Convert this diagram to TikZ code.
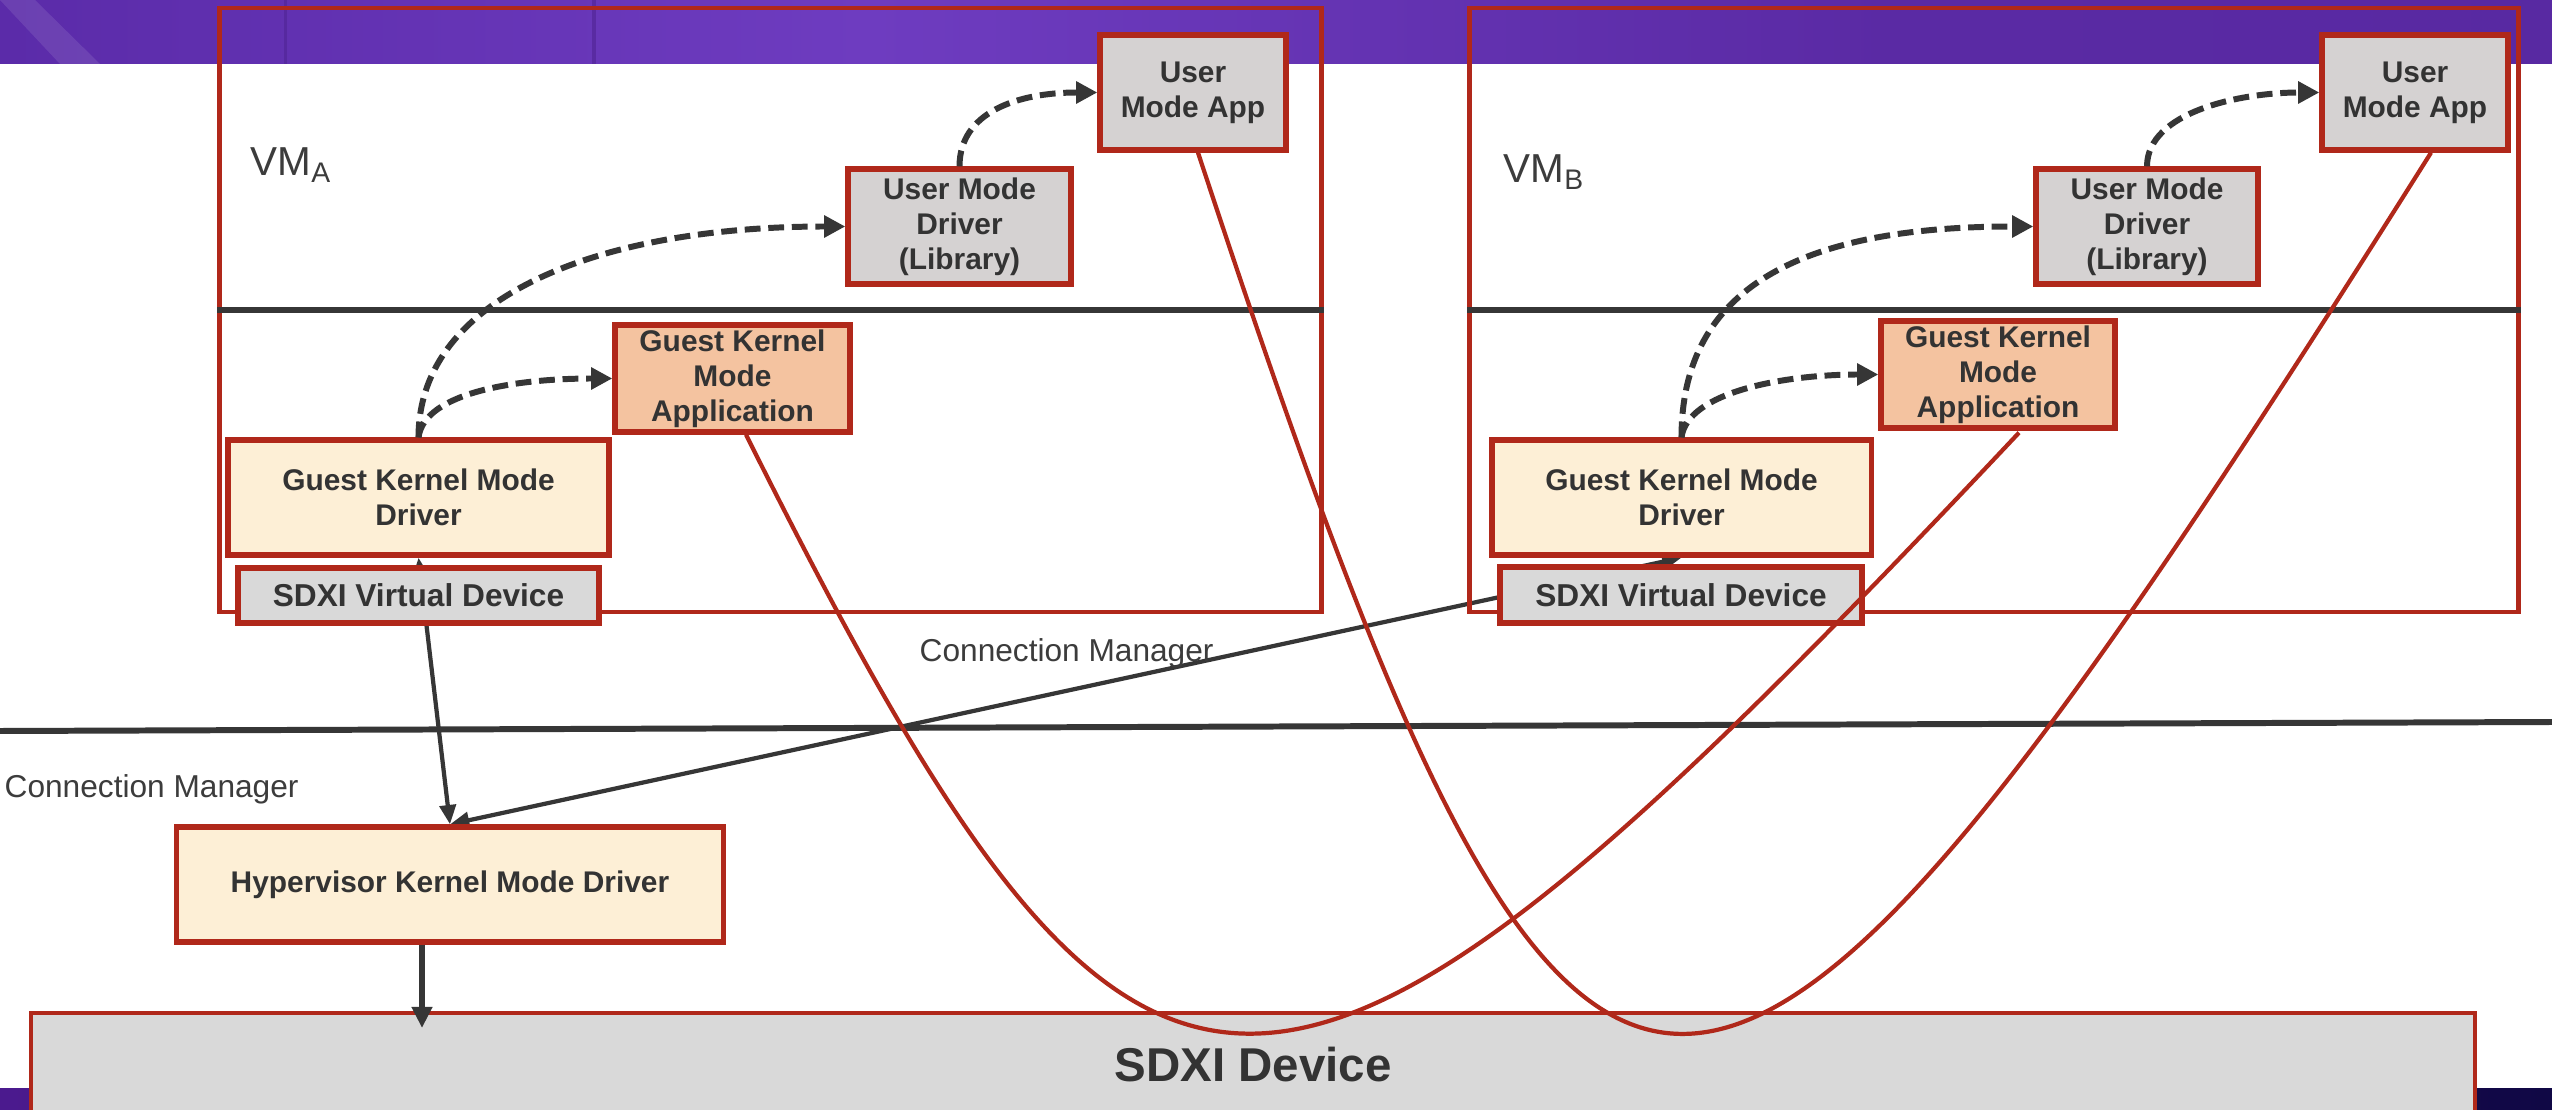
\documentclass[tikz,border=0pt]{standalone}
\usepackage{fontspec}
\setmainfont{Liberation Sans}
\usetikzlibrary{arrows.meta,calc}
\definecolor{redb}{HTML}{B0281A}
\definecolor{dk}{HTML}{363636}
\definecolor{cream}{HTML}{FDEFD6}
\definecolor{peach}{HTML}{F4C3A0}
\definecolor{lgray}{HTML}{D5D2D2}
\definecolor{vgray}{HTML}{D9D9D9}
\definecolor{txt}{HTML}{333333}
\definecolor{lbltxt}{HTML}{3C3C3C}
\definecolor{bnA}{HTML}{46168C}
\definecolor{bnB}{HTML}{5526A2}
\definecolor{bnC}{HTML}{6E3CC0}
\definecolor{bnD}{HTML}{5A2AA4}
\definecolor{bnE}{HTML}{55279E}
\definecolor{botL}{HTML}{4B1A8E}
\definecolor{botR}{HTML}{100845}
\pgfdeclarehorizontalshading{banner}{100bp}{color(0bp)=(bnA); color(20bp)=(bnB); color(42bp)=(bnC); color(62bp)=(bnD); color(100bp)=(bnE)}
\pgfdeclarelayer{bglayer}
\pgfdeclarelayer{connlayer}
\pgfsetlayers{bglayer,connlayer,main}
\tikzset{
  basebox/.style={draw=redb, line width=1.5pt, inner sep=0pt, align=center, text=txt,
    font=\bfseries\fontsize{8.5}{10}\selectfont},
  umbox/.style={basebox, fill=lgray},
  gkmabox/.style={basebox, fill=peach},
  drvbox/.style={basebox, fill=cream},
  vdbox/.style={basebox, fill=vgray, font=\bfseries\fontsize{9}{11}\selectfont},
  vmbox/.style={draw=redb, line width=1.3pt, inner sep=0pt},
  divider/.style={draw=dk, line width=1.7pt},
  dasharrow/.style={draw=dk, line width=1.7pt, dash pattern=on 4.5pt off 2.2pt,
    -{Triangle[length=6pt,width=6pt]}},
  connline/.style={draw=dk, line width=1.2pt},
  thintip/.style={{Triangle[length=5.5pt,width=4.6pt]}-{Triangle[length=5.5pt,width=4.6pt]}},
  redcurve/.style={draw=redb, line width=1.2pt},
  lbl/.style={text=lbltxt, font=\fontsize{9}{11}\selectfont, inner sep=0pt, anchor=base west},
}
\begin{document}
\begin{tikzpicture}[x=0.01cm, y=-0.01cm]
\useasboundingbox (0,0) rectangle (2552,1110);
\clip (0,0) rectangle (2552,1110);

% backgrounds
\begin{pgfonlayer}{bglayer}
  \fill[white] (0,0) rectangle (2552,1110);
  \shade[shading=banner] (0,0) rectangle (2552,64);
  \fill[white, opacity=0.10] (0,0) -- (35,0) -- (100,64) -- (60,64) -- cycle;
  \fill[bnA!80!black, opacity=0.25] (284,0) rectangle (287,64);
  \fill[bnA!80!black, opacity=0.3] (592,0) rectangle (596,64);
  \shade[left color=botL, right color=botR] (0,1088) rectangle (2552,1110);
\end{pgfonlayer}

% VM frames
\node[vmbox, minimum width=11.01cm, minimum height=6.04cm] (vmA) at (770.5,310) {};
\node[vmbox, minimum width=10.48cm, minimum height=6.04cm] (vmB) at (1994,310) {};
\draw[divider] (vmA.west) -- (vmA.east);
\draw[divider] (vmB.west) -- (vmB.east);
\draw[divider] (0,731) -- (2552,722);

% VM A boxes
\node[umbox, minimum width=1.86cm, minimum height=1.15cm] (umaA) at (1193,92.5) {User\\Mode App};
\node[umbox, minimum width=2.23cm, minimum height=1.15cm] (umdA) at (959.5,226.5) {User Mode\\Driver\\(Library)};
\node[gkmabox, minimum width=2.35cm, minimum height=1.07cm] (gkmaA) at (732.5,378.5) {Guest Kernel\\Mode\\Application};
\node[drvbox, minimum width=3.81cm, minimum height=1.15cm] (gkmdA) at (418.5,497.5) {Guest Kernel Mode\\Driver};
\node[vdbox, minimum width=3.61cm, minimum height=0.55cm] (vdA) at (418.5,595.5) {SDXI Virtual Device};

% VM B boxes
\node[umbox, minimum width=1.86cm, minimum height=1.15cm] (umaB) at (2415,92.5) {User\\Mode App};
\node[umbox, minimum width=2.22cm, minimum height=1.15cm] (umdB) at (2147,226.5) {User Mode\\Driver\\(Library)};
\node[gkmabox, minimum width=2.34cm, minimum height=1.07cm] (gkmaB) at (1998,374.5) {Guest Kernel\\Mode\\Application};
\node[drvbox, minimum width=3.79cm, minimum height=1.15cm] (gkmdB) at (1681.5,497.5) {Guest Kernel Mode\\Driver};
\node[vdbox, minimum width=3.62cm, minimum height=0.56cm] (vdB) at (1681,595) {SDXI Virtual Device};

% host side
\node[drvbox, minimum width=5.46cm, minimum height=1.15cm] (hkmd) at (450,884.5) {Hypervisor Kernel Mode Driver};
\node[basebox, fill=vgray, line width=1.2pt, minimum width=24.42cm, minimum height=1.04cm,
      font=\bfseries\fontsize{13.5}{16}\selectfont] (sdxi) at (1253,1065) {SDXI Device};

% labels
\node[lbl, font=\fontsize{11.5}{14}\selectfont] (vmAlbl) at (250,176) {VM\textsubscript{A}};
\node[lbl, font=\fontsize{11.5}{14}\selectfont] (vmBlbl) at (1503,183) {VM\textsubscript{B}};
\node[lbl] (cmLeft) at (4,797) {Connection Manager};
\node[lbl] (cmMid) at (919,662) {Connection Manager};

% solid connectors behind boxes
\begin{pgfonlayer}{connlayer}
  \draw[connline, thintip] (gkmdA.south) -- (hkmd.north);
  \draw[connline, thintip] (hkmd.north) -- (gkmdB.south);
\end{pgfonlayer}

% dashed arrows
\draw[dasharrow] (umdA.north) .. controls +(0,-54) and +(-80,0) .. (umaA.west);
\draw[dasharrow] (gkmdA.north) .. controls +(0,-140) and +(-248,0) .. (umdA.west);
\draw[dasharrow] (gkmdA.north) .. controls +(6,-45) and +(-95,0) .. (gkmaA.west);
\draw[dasharrow] (umdB.north) .. controls +(0,-54) and +(-80,0) .. (umaB.west);
\draw[dasharrow] (gkmdB.north) .. controls +(0,-140) and +(-248,0) .. (umdB.west);
\draw[dasharrow] (gkmdB.north) .. controls +(6,-45) and +(-95,0) .. (gkmaB.west);

% hypervisor driver to device
\coordinate (sdxiIn) at (422,1028);
\draw[draw=dk, line width=1.5pt, -{Triangle[length=6pt,width=5.6pt]}] (hkmd.south -| sdxiIn) -- (sdxiIn);

% red data paths
\draw[redcurve] ($(gkmaA.south)+(13.5,0)$) .. controls +(400,800) and +(-752,800) .. ($(gkmaB.south)+(21,2)$);
\draw[redcurve] ($(umaA.south)+(5,0)$) .. controls +(388,1175) and +(-740,1175) .. ($(umaB.south)+(16,0)$);
\end{tikzpicture}
\end{document}
